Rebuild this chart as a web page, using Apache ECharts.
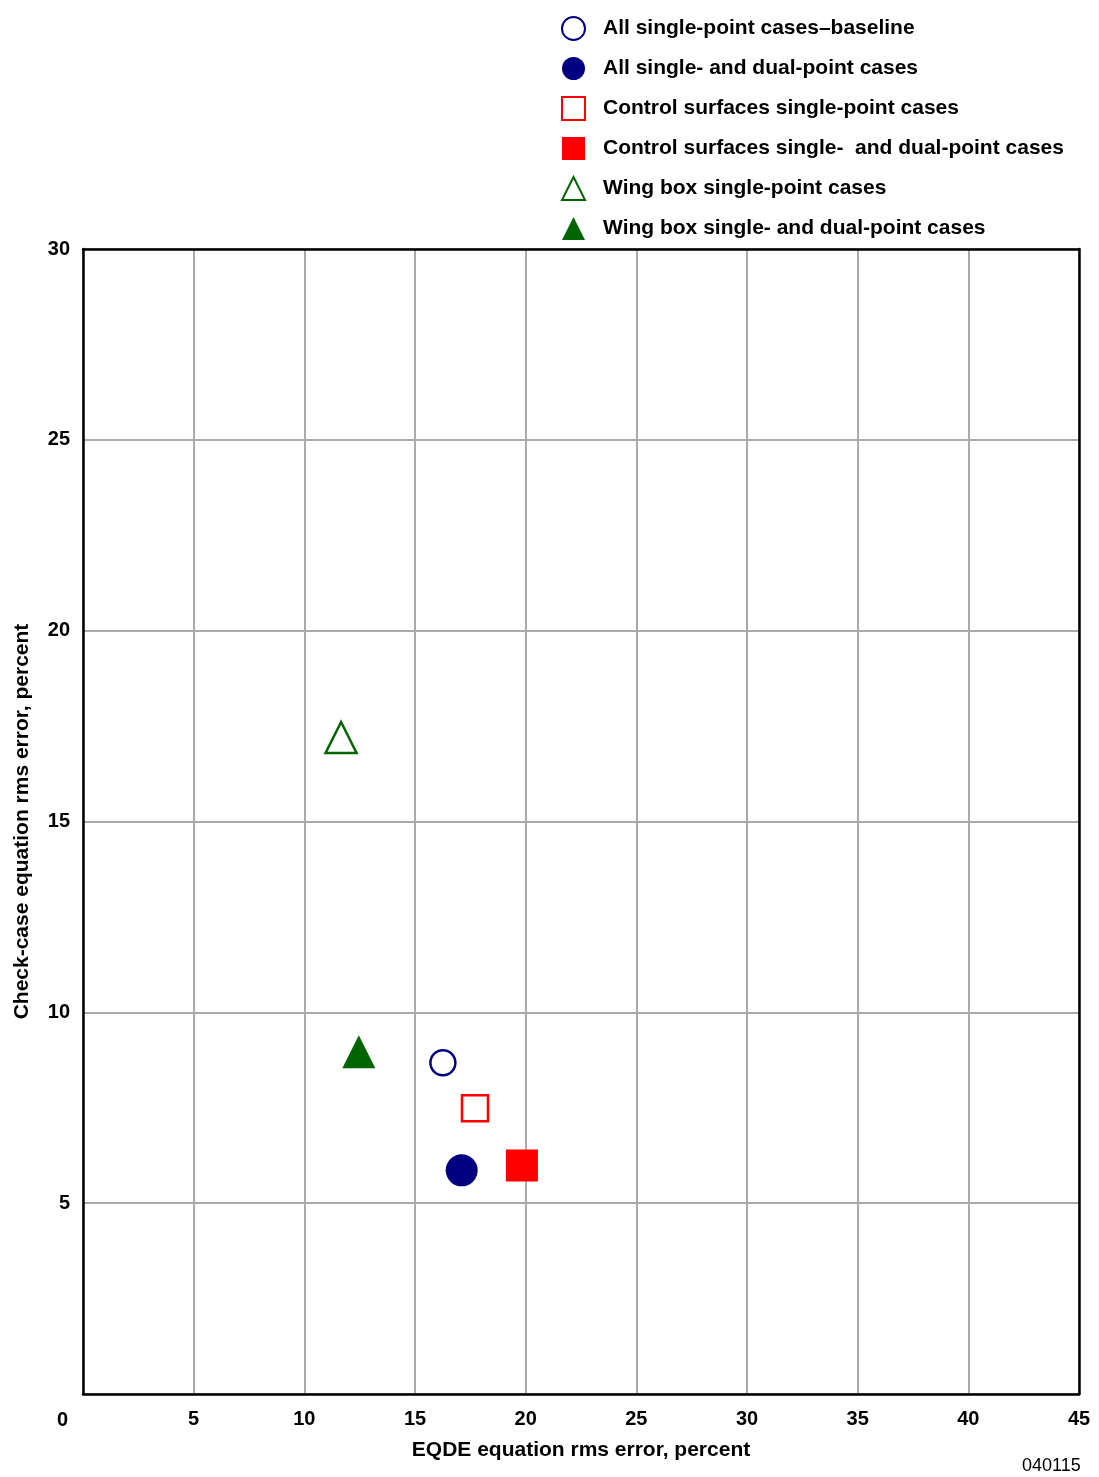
<!DOCTYPE html>
<html>
<head>
<meta charset="utf-8">
<style>
  html, body { margin: 0; padding: 0; background: #fff; }
  #chart { width: 1099px; height: 1477px; }
</style>
<script src="https://cdn.jsdelivr.net/npm/echarts@6/dist/echarts.min.js"></script>
</head>
<body>
<div id="chart"></div>
<script>
// Case groups and their rms errors (percent)
const caseNames = [
  'All single-point cases\u2013baseline',
  'All single- and dual-point cases',
  'Control surfaces single-point cases',
  'Control surfaces single-  and dual-point cases',
  'Wing box single-point cases',
  'Wing box single- and dual-point cases'
];
const eqdeError = [16.26, 17.11, 17.71, 19.83, 11.66, 12.46];
const checkCaseError = [8.68, 5.86, 7.49, 5.99, 17.20, 8.97];
const xTicks = [0, 5, 10, 15, 20, 25, 30, 35, 40, 45];
const yTicks = [0, 5, 10, 15, 20, 25, 30];

// Marker appearance per group
const markerStyles = [
  { symbol: 'circle', size: 25, color: '#000080', open: true },
  { symbol: 'circle', size: 32, color: '#000080', open: false },
  { symbol: 'rect', size: 26, color: '#ff0000', open: true },
  { symbol: 'rect', size: 32, color: '#ff0000', open: false },
  { symbol: 'triangle', size: 31, color: '#006400', open: true },
  { symbol: 'triangle', size: 33, color: '#006400', open: false }
];

const FONT = '"Liberation Sans", Arial, Helvetica, sans-serif';
const boldText = (size) => ({ fontFamily: FONT, fontSize: size, fontWeight: 'bold', color: '#000' });

const series = caseNames.map((name, i) => {
  const st = markerStyles[i];
  return {
    name: name,
    type: 'scatter',
    symbol: st.symbol,
    symbolSize: st.size,
    itemStyle: st.open
      ? { color: '#ffffff', borderColor: st.color, borderWidth: 2.5, opacity: 1 }
      : { color: st.color, borderWidth: 0, opacity: 1 },
    emphasis: { disabled: true },
    z: 5,
    data: [[eqdeError[i], checkCaseError[i]]]
  };
});

// Frame lines on the top and right sides of the plot
const frameAxis = {
  type: 'value',
  z: 3,
  axisLine: { show: true, onZero: false, lineStyle: { color: '#000', width: 2.5 } },
  axisTick: { show: false },
  axisLabel: { show: false },
  splitLine: { show: false }
};

const chart = echarts.init(document.getElementById('chart'), null, { renderer: 'canvas' });
chart.setOption({
  backgroundColor: '#ffffff',
  animation: false,
  textStyle: { fontFamily: FONT },
  grid: {
    left: 83, top: 249, right: 20, bottom: 83,
    outerBoundsMode: 'none',
    containLabel: false
  },
  legend: {
    orient: 'vertical',
    left: 561,
    top: 16,
    padding: 0,
    itemWidth: 23,
    itemHeight: 23,
    itemGap: 16,
    selectedMode: false,
    textStyle: Object.assign(boldText(21), { lineHeight: 23, padding: [0, 0, 0, 13] }),
    data: caseNames
  },
  xAxis: [
    {
      type: 'value',
      min: xTicks[0],
      max: xTicks[xTicks.length - 1],
      interval: xTicks[1] - xTicks[0],
      name: 'EQDE equation rms error, percent',
      nameLocation: 'middle',
      nameGap: 46,
      nameTextStyle: boldText(21),
      axisLine: { show: true, onZero: false, lineStyle: { color: '#000', width: 2.5 } },
      axisTick: { show: false },
      axisLabel: Object.assign(boldText(20), { showMinLabel: false, margin: 15 }),
      splitLine: { show: true, lineStyle: { color: '#aaaaaa', width: 2 } }
    },
    Object.assign({ position: 'top', min: xTicks[0], max: xTicks[xTicks.length - 1] }, frameAxis)
  ],
  yAxis: [
    {
      type: 'value',
      min: yTicks[0],
      max: yTicks[yTicks.length - 1],
      interval: yTicks[1] - yTicks[0],
      name: 'Check-case equation rms error, percent',
      nameLocation: 'middle',
      nameGap: 50,
      nameTextStyle: boldText(21),
      axisLine: { show: true, onZero: false, lineStyle: { color: '#000', width: 2.5 } },
      axisTick: { show: false },
      axisLabel: Object.assign(boldText(20), { showMinLabel: false, margin: 13 }),
      splitLine: { show: true, lineStyle: { color: '#aaaaaa', width: 2 } }
    },
    Object.assign({ position: 'right', min: yTicks[0], max: yTicks[yTicks.length - 1] }, frameAxis)
  ],
  graphic: [
    {
      type: 'text', left: 57, top: 1410,
      style: { text: String(xTicks[0]), font: 'bold 20px ' + FONT, fill: '#000' }
    },
    {
      type: 'text', left: 1022, top: 1457,
      style: { text: '040115', font: '18px ' + FONT, fill: '#000' }
    }
  ],
  series: series
});
</script>
</body>
</html>
